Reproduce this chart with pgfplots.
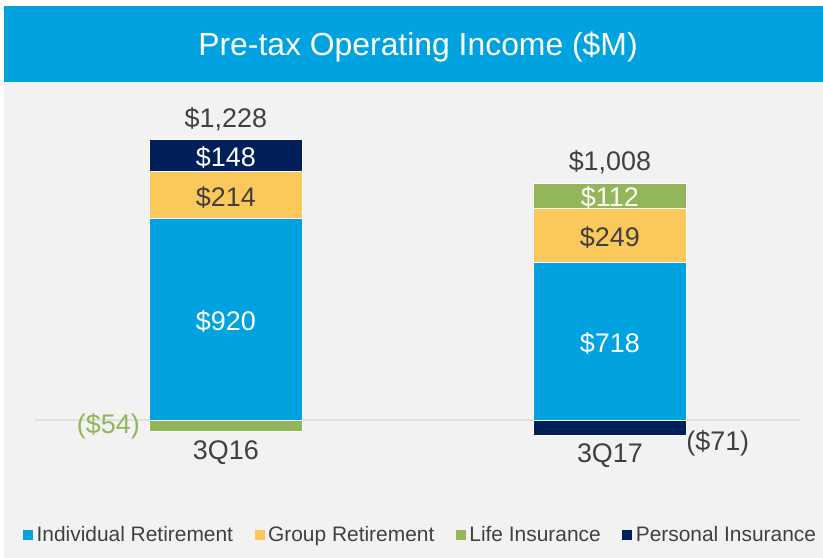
\documentclass[border=0pt]{standalone}
\usepackage{fontspec}
\setmainfont{Liberation Sans}
\usepackage{pgfplots}
\pgfplotsset{compat=1.18}
\definecolor{cBlue}{HTML}{00A3E0}
\definecolor{cGold}{HTML}{FBC95B}
\definecolor{cGreen}{HTML}{93B65A}
\definecolor{cNavy}{HTML}{001F5B}
\definecolor{cBg}{HTML}{F2F2F2}
\definecolor{cText}{HTML}{404040}
\newcommand\vf{\fontsize{27}{32}\selectfont}
\pgfplotsset{sq/.style={legend image code/.code={\fill[##1,draw=none] (0bp,-5bp) rectangle (10bp,5bp);}},
  geom/.style={at={(35bp,94.2bp)}, anchor=south west, scale only axis,
  width=765bp, height=350.4bp,
  xmin=-0.497, xmax=1.495, ymin=-200, ymax=1400,
  axis lines=none, clip=false}}
\begin{document}
\begin{tikzpicture}
\useasboundingbox (0bp,0bp) rectangle (823bp,558bp);
\fill[white] (0bp,0bp) rectangle (823bp,558bp);
\fill[cBg] (4bp,0bp) rectangle (823bp,552bp);
\fill[cBlue] (4bp,476bp) rectangle (823bp,552bp);
\node[white, font=\fontsize{32}{38}\selectfont] at (418bp,511bp) {Pre-tax Operating Income (\$M)};
\draw[black!12, line width=1.2bp] (35bp,138bp) -- (800bp,138bp);
\begin{axis}[geom,
  ybar stacked, bar width=153bp,
  legend columns=4,
  legend style={at={(0.505,-0.203)}, anchor=center, draw=none, fill=none,
    font=\fontsize{21}{25}\selectfont, text=cText,
    nodes={inner sep=3.5bp},
    /tikz/every even column/.append style={column sep=18bp}}
]
\addplot[fill=cBlue, draw=white, line width=0.8bp, sq] coordinates {(0,920) (1,718)};
\addplot[fill=cGold, draw=white, line width=0.8bp, sq] coordinates {(0,214) (1,249)};
\addplot[fill=cGreen, draw=white, line width=0.8bp, sq] coordinates {(0,0) (1,112)};
\addplot[fill=cNavy, draw=white, line width=0.8bp, sq] coordinates {(0,148) (1,0)};
\legend{Individual Retirement, Group Retirement, Life Insurance, Personal Insurance}
\end{axis}
\begin{axis}[geom, ybar, bar width=153bp]
\addplot[fill=cGreen, draw=white, line width=0.8bp, bar shift=0pt] coordinates {(0,-54)};
\addplot[fill=cNavy, draw=white, line width=0.8bp, bar shift=0pt] coordinates {(1,-71)};
\end{axis}
\begin{axis}[geom]
\node[text=cText, font=\vf] at (axis cs:0,1375) {\$1,228};
\node[white, font=\vf] at (axis cs:0,1200) {\$148};
\node[text=cText, font=\vf] at (axis cs:0,1015) {\$214};
\node[white, font=\vf] at (axis cs:0,450) {\$920};
\node[text=cGreen, anchor=east, font=\vf] at (axis cs:-0.215,-28) {(\$54)};
\node[text=cText, font=\vf] at (axis cs:0,-150) {3Q16};
\node[text=cText, font=\vf] at (axis cs:1,1175) {\$1,008};
\node[white, font=\vf] at (axis cs:1,1018) {\$112};
\node[text=cText, font=\vf] at (axis cs:1,834) {\$249};
\node[white, font=\vf] at (axis cs:1,350) {\$718};
\node[text=cText, font=\vf] at (axis cs:1,-163) {3Q17};
\node[text=cText, anchor=west, font=\vf] at (axis cs:1.19,-107) {(\$71)};
\end{axis}
\end{tikzpicture}
\end{document}
